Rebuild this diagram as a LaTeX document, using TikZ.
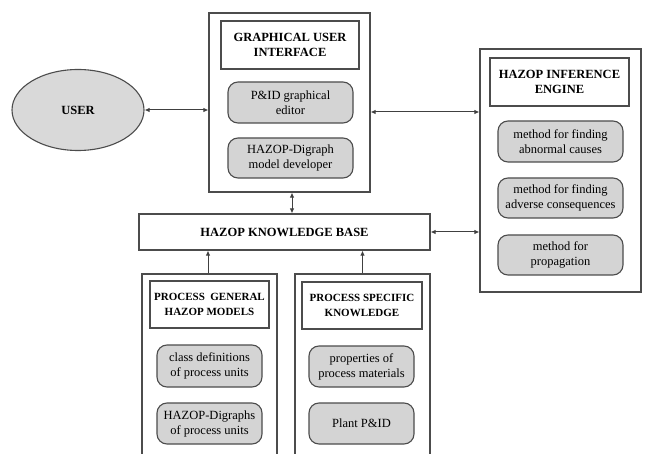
\documentclass[tikz,border=0pt]{standalone}
\usepackage{fontspec}
\setmainfont{Liberation Serif}
\usetikzlibrary{arrows.meta,shapes.geometric}
\tikzset{
  ln/.style={draw=black!70, line width=1.1pt},
  outer/.style={ln, rectangle, inner sep=0pt},
  titlebox/.style={ln, rectangle, inner sep=0pt, align=center, text=black,
     font=\fontsize{12.5}{15}\selectfont\bfseries},
  smalltitle/.style={titlebox, font=\fontsize{11}{15.5}\selectfont\bfseries},
  method/.style={ln, rectangle, rounded corners=10pt, fill=black!17, inner sep=0pt,
     align=center, text=black, font=\fontsize{12.5}{15}\selectfont},
  arr/.style={draw=black!75, line width=1pt, -{Latex[length=5pt,width=4.5pt]}},
  darr/.style={draw=black!75, line width=1pt, {Latex[length=5pt,width=4.5pt]}-{Latex[length=5pt,width=4.5pt]}},
}
\begin{document}
\begin{tikzpicture}[x=1pt,y=-1pt]
\useasboundingbox (0,0) rectangle (645,454);
% user
\node[ellipse, ln, fill=black!15, minimum width=132pt, minimum height=81pt, inner sep=0pt,
  font=\fontsize{12.5}{15}\selectfont\bfseries, text=black] (user) at (78,110) {USER};
% GUI
\node[outer, minimum width=161pt, minimum height=179pt] (gui) at (289.5,102.5) {};
\node[titlebox, minimum width=138pt, minimum height=48pt] (guit) at (290,45) {GRAPHICAL USER\\INTERFACE};
\node[method, minimum width=125pt, minimum height=41pt] (pid) at (290.5,102.5) {P\&ID graphical\\editor};
\node[method, minimum width=125pt, minimum height=40pt] (hd) at (290.5,158) {HAZOP-Digraph\\model developer};
% inference engine
\node[outer, minimum width=161pt, minimum height=243pt] (inf) at (560.5,170.5) {};
\node[titlebox, minimum width=139pt, minimum height=48pt] (inft) at (559.5,82) {HAZOP INFERENCE\\ENGINE};
\node[method, minimum width=125pt, minimum height=41pt] (m1) at (560.5,141.5) {method for finding\\abnormal causes};
\node[method, minimum width=125pt, minimum height=40pt] (m2) at (560.5,198) {method for finding\\adverse consequences};
\node[method, minimum width=125pt, minimum height=40pt] (m3) at (560.5,255) {method for\\propagation};
% knowledge base
\node[titlebox, minimum width=291pt, minimum height=36pt] (kb) at (284.5,232) {HAZOP KNOWLEDGE BASE};
% process general
\node[outer, minimum width=135pt, minimum height=196pt] (pg) at (209.5,372) {};
\node[smalltitle, minimum width=119pt, minimum height=47pt] (pgt) at (209.5,304.5) {PROCESS\ \ GENERAL\\HAZOP MODELS};
\node[method, minimum width=105pt, minimum height=42pt] (pg1) at (209.5,366) {class definitions\\of process units};
\node[method, minimum width=105pt, minimum height=41pt] (pg2) at (209.5,423.5) {HAZOP-Digraphs\\of process units};
% process specific
\node[outer, minimum width=135pt, minimum height=196pt] (ps) at (362.5,372) {};
\node[smalltitle, minimum width=120pt, minimum height=47pt] (pst) at (362,305.5) {PROCESS SPECIFIC\\KNOWLEDGE};
\node[method, minimum width=105pt, minimum height=41pt] (ps1) at (361.5,366.5) {properties of\\process materials};
\node[method, minimum width=105pt, minimum height=41pt] (ps2) at (361.5,423.5) {Plant P\&ID};
% connectors
\coordinate (gy) at (0,112);
\coordinate (vx) at (292,0);
\draw[darr] (user.east) -- (user.east -| gui.west);
\draw[darr] (gui.east |- gy) -- (inf.west |- gy);
\draw[darr] (gui.south -| vx) -- (kb.north -| vx);
\draw[darr] (kb.east) -- (kb.east -| inf.west);
\draw[arr] ([xshift=-1.5pt]pg.north) -- ([xshift=-1.5pt]pg.north |- kb.south);
\draw[arr] (ps.north) -- (ps.north |- kb.south);
\end{tikzpicture}
\end{document}
